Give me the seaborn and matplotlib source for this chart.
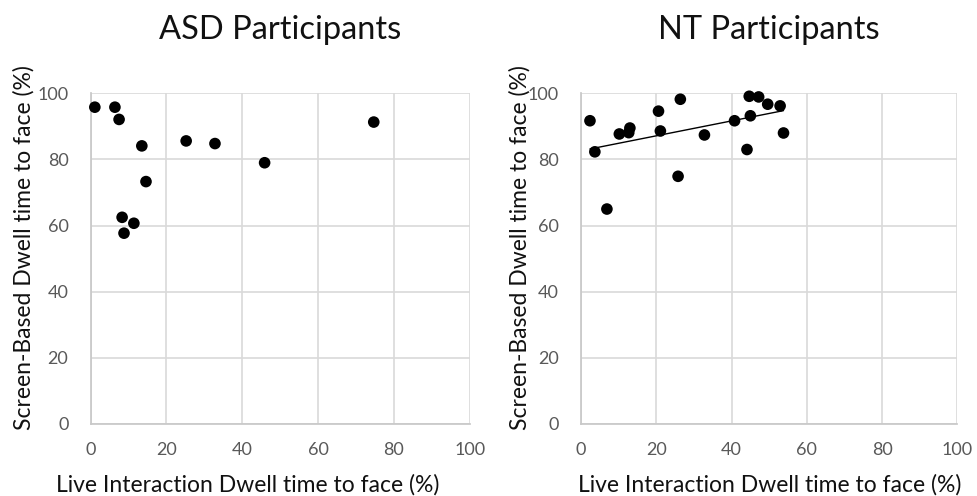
import numpy as np
import pandas as pd
import seaborn as sns
import matplotlib
matplotlib.use("Agg")
import matplotlib.pyplot as plt

# ASD participants
asd_live = [1.1, 6.4, 7.5, 13.5, 25.2, 32.8, 45.9, 74.7, 14.6, 8.3, 11.4, 8.8]
asd_screen = [95.8, 95.8, 92.1, 84.1, 85.6, 84.8, 79.0, 91.3, 73.3, 62.5, 60.7, 57.7]

# NT participants
nt_live = [2.4, 3.7, 6.9, 10.2, 12.7, 13.0, 20.6, 21.1, 26.4, 25.8, 32.8,
           40.8, 44.1, 44.7, 45.0, 47.2, 49.6, 52.9, 53.8]
nt_screen = [91.7, 82.3, 65.0, 87.7, 88.1, 89.5, 94.6, 88.6, 98.2, 74.9, 87.4,
             91.7, 83.0, 99.1, 93.2, 98.9, 96.7, 96.2, 88.0]

titles = ["ASD Participants", "NT Participants"]
xlabel = "Live Interaction Dwell time to face (%)"
ylabel = "Screen-Based Dwell time to face (%)"
ticks = [0, 20, 40, 60, 80, 100]

asd = pd.DataFrame({"live": asd_live, "screen": asd_screen})
nt = pd.DataFrame({"live": nt_live, "screen": nt_screen})

sns.set_theme(style="white")
plt.rcParams["font.family"] = ["Lato", "DejaVu Sans"]

fig = plt.figure(figsize=(9.78, 4.96), dpi=100)
ax1 = fig.add_axes([0.0927, 0.1452, 0.3875, 0.6667])
ax2 = fig.add_axes([0.594, 0.1452, 0.385, 0.6667])

# linear trendline on NT group
sns.regplot(data=nt, x="live", y="screen", ax=ax2, scatter=False, ci=None,
            truncate=True, color="black", line_kws={"linewidth": 1, "zorder": 2})

grid_c = "#d9d9d9"
# label positions (axes fraction), the left one sits off-centre like the original
xlab_pos = [(0.415, -0.15), (0.5, -0.15)]
ylab_pos = [(-0.147, 0.535), (-0.135, 0.535)]
for i, (ax, df, title) in enumerate([(ax1, asd, titles[0]), (ax2, nt, titles[1])]):
    sns.scatterplot(data=df, x="live", y="screen", ax=ax, color="black",
                    s=70, edgecolor="none", zorder=3, clip_on=False)
    ax.set_xlim(0, 100)
    ax.set_ylim(0, 100)
    ax.set_xticks(ticks)
    ax.set_yticks(ticks)
    ax.grid(True, color=grid_c, linewidth=1.2)
    ax.set_axisbelow(True)
    for sp in ax.spines.values():
        sp.set_visible(False)
    ax.spines["left"].set_visible(True)
    ax.spines["bottom"].set_visible(True)
    ax.spines["left"].set_color("#c8c8c8")
    ax.spines["bottom"].set_color("#c8c8c8")
    ax.tick_params(axis="both", length=0, labelsize=13, colors="#595959")
    ax.tick_params(axis="x", pad=13)
    ax.tick_params(axis="y", pad=16)
    ax.set_xlabel(xlabel, fontsize=16.5, color="#111111")
    ax.set_ylabel(ylabel, fontsize=16.5, color="#111111")
    ax.xaxis.set_label_coords(*xlab_pos[i])
    ax.yaxis.set_label_coords(*ylab_pos[i])
    ax.set_title(title, fontsize=23.5, color="#111111", pad=39)

fig.savefig("out.png", dpi=100)
